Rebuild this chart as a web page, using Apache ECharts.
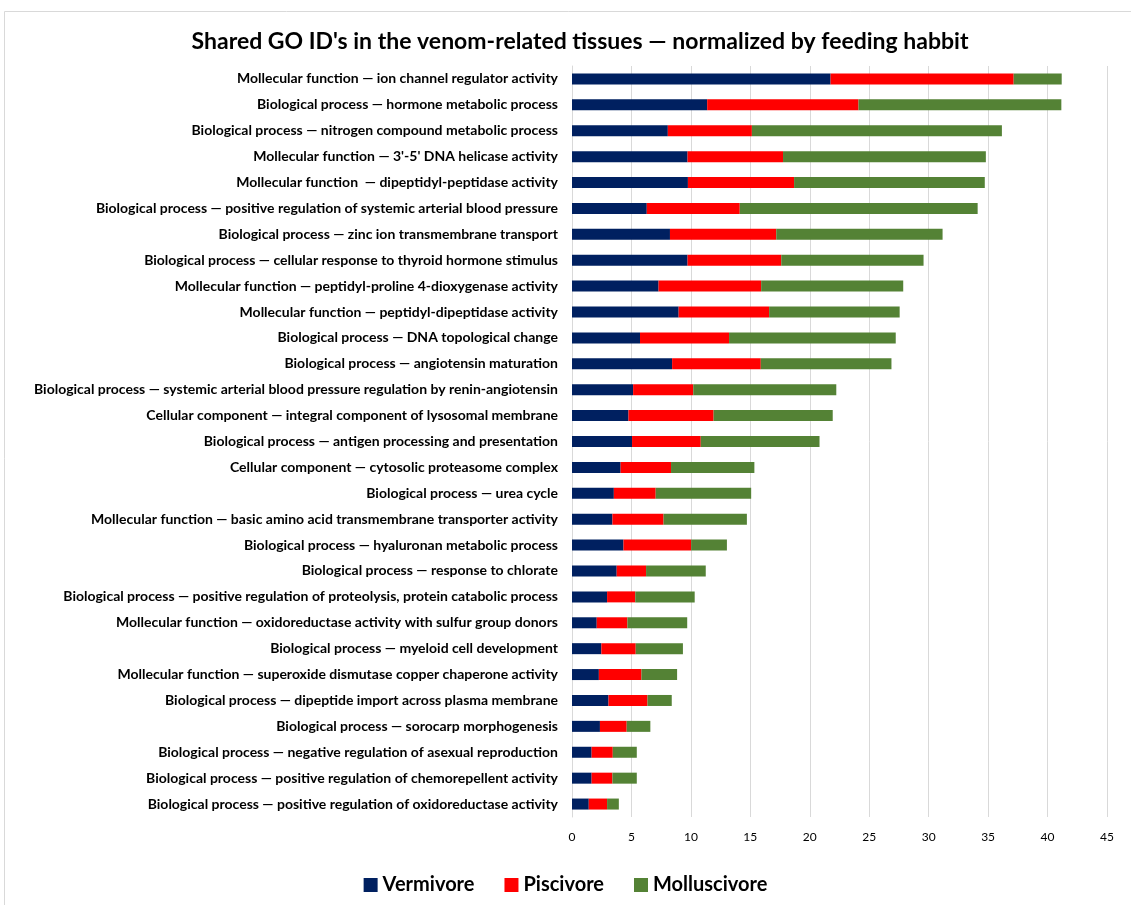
<!DOCTYPE html>
<html>
<head>
<meta charset="utf-8">
<script src="https://cdn.jsdelivr.net/npm/echarts@6/dist/echarts.min.js"></script>
<style>
  html, body { margin: 0; padding: 0; background: #ffffff; }
  #chart { width: 1131px; height: 905px; }
</style>
</head>
<body>
<div id="chart"></div>
<script>
// GO terms, listed top to bottom
const categories = [
  "Mollecular function \u2014 ion channel regulator activity",
  "Biological process \u2014 hormone metabolic process",
  "Biological process \u2014 nitrogen compound metabolic process",
  "Mollecular function \u2014 3'-5' DNA helicase activity",
  "Mollecular function  \u2014 dipeptidyl-peptidase activity",
  "Biological process \u2014 positive regulation of systemic arterial blood pressure",
  "Biological process \u2014 zinc ion transmembrane transport",
  "Biological process \u2014 cellular response to thyroid hormone stimulus",
  "Mollecular function \u2014 peptidyl-proline 4-dioxygenase activity",
  "Mollecular function \u2014 peptidyl-dipeptidase activity",
  "Biological process \u2014 DNA topological change",
  "Biological process \u2014 angiotensin maturation",
  "Biological process \u2014 systemic arterial blood pressure regulation by renin-angiotensin",
  "Cellular component \u2014 integral component of lysosomal membrane",
  "Biological process \u2014 antigen processing and presentation",
  "Cellular component \u2014 cytosolic proteasome complex",
  "Biological process \u2014 urea cycle",
  "Mollecular function \u2014 basic amino acid transmembrane transporter activity",
  "Biological process \u2014 hyaluronan metabolic process",
  "Biological process \u2014 response to chlorate",
  "Biological process \u2014 positive regulation of proteolysis, protein catabolic process",
  "Mollecular function \u2014 oxidoreductase activity with sulfur group donors",
  "Biological process \u2014 myeloid cell development",
  "Mollecular function \u2014 superoxide dismutase copper chaperone activity",
  "Biological process \u2014 dipeptide import across plasma membrane",
  "Biological process \u2014 sorocarp morphogenesis",
  "Biological process \u2014 negative regulation of asexual reproduction",
  "Biological process \u2014 positive regulation of chemorepellent activity",
  "Biological process \u2014 positive regulation of oxidoreductase activity"
];

const vermivore = [21.75, 11.37, 8.06, 9.72, 9.75, 6.29, 8.24, 9.72, 7.28, 8.97,
  5.72, 8.42, 5.14, 4.75, 5.05, 4.09, 3.52, 3.40, 4.33, 3.76,
  2.95, 2.08, 2.47, 2.26, 3.07, 2.35, 1.65, 1.65, 1.41];

const piscivore = [15.40, 12.73, 7.07, 8.03, 8.93, 7.82, 8.94, 7.88, 8.63, 7.61,
  7.49, 7.46, 5.06, 7.16, 5.78, 4.24, 3.52, 4.30, 5.69, 2.47,
  2.37, 2.58, 2.89, 3.58, 3.28, 2.25, 1.78, 1.75, 1.54];

const molluscivore = [4.04, 17.06, 21.03, 17.06, 16.04, 20.01, 13.99, 11.97, 11.95, 10.98,
  14.02, 10.99, 12.03, 10.02, 9.99, 7.01, 8.03, 7.01, 3.01, 5.02,
  5.00, 5.03, 3.97, 3.00, 2.04, 1.99, 2.02, 2.05, 0.99];

const seriesNames = ["Vermivore", "Piscivore", "Molluscivore"];
const seriesColors = ["#002060", "#FF0000", "#548235"];
const seriesValues = [vermivore, piscivore, molluscivore];

const xTicks = { min: 0, max: 45, interval: 5 };

const chart = echarts.init(document.getElementById('chart'), null, { renderer: 'canvas' });

const font = 'Lato, "Open Sans", "Liberation Sans", sans-serif';

chart.setOption({
  backgroundColor: '#ffffff',
  animation: false,
  title: {
    text: "Shared GO ID's in the venom-related tissues \u2014 normalized by feeding habbit",
    left: 575,
    textAlign: 'center',
    top: 25,
    textStyle: { fontFamily: font, fontSize: 23, fontWeight: 'bold', color: '#000000' }
  },
  graphic: [{
    type: 'rect',
    shape: { x: 4.5, y: 11.5, width: 1200, height: 1000 },
    style: { fill: 'none', stroke: '#d9d9d9', lineWidth: 1 },
    silent: true
  }],
  legend: {
    data: seriesNames,
    bottom: 5,
    left: 'center',
    itemWidth: 14,
    itemHeight: 14,
    itemGap: 30,
    icon: 'rect',
    textStyle: { fontFamily: font, fontSize: 20, fontWeight: 'bold', color: '#000000' }
  },
  grid: { left: 572, right: 24, top: 66, bottom: 88, containLabel: false },
  xAxis: {
    type: 'value',
    min: xTicks.min,
    max: xTicks.max,
    interval: xTicks.interval,
    axisLine: { show: false },
    axisTick: { show: false },
    axisLabel: { fontFamily: font, fontSize: 12, color: '#000000', margin: 14 },
    splitLine: { show: true, lineStyle: { color: '#d9d9d9', width: 1 } }
  },
  yAxis: {
    type: 'category',
    data: categories,
    inverse: true,
    axisLine: { show: true, lineStyle: { color: '#d9d9d9', width: 1 } },
    axisTick: { show: false },
    axisLabel: { fontFamily: font, fontSize: 14, fontWeight: 'bold', color: '#000000', margin: 14 }
  },
  series: seriesValues.map((vals, i) => ({
    name: seriesNames[i],
    type: 'bar',
    stack: 'total',
    data: vals,
    barWidth: 11,
    itemStyle: { color: seriesColors[i] }
  }))
});
</script>
</body>
</html>
